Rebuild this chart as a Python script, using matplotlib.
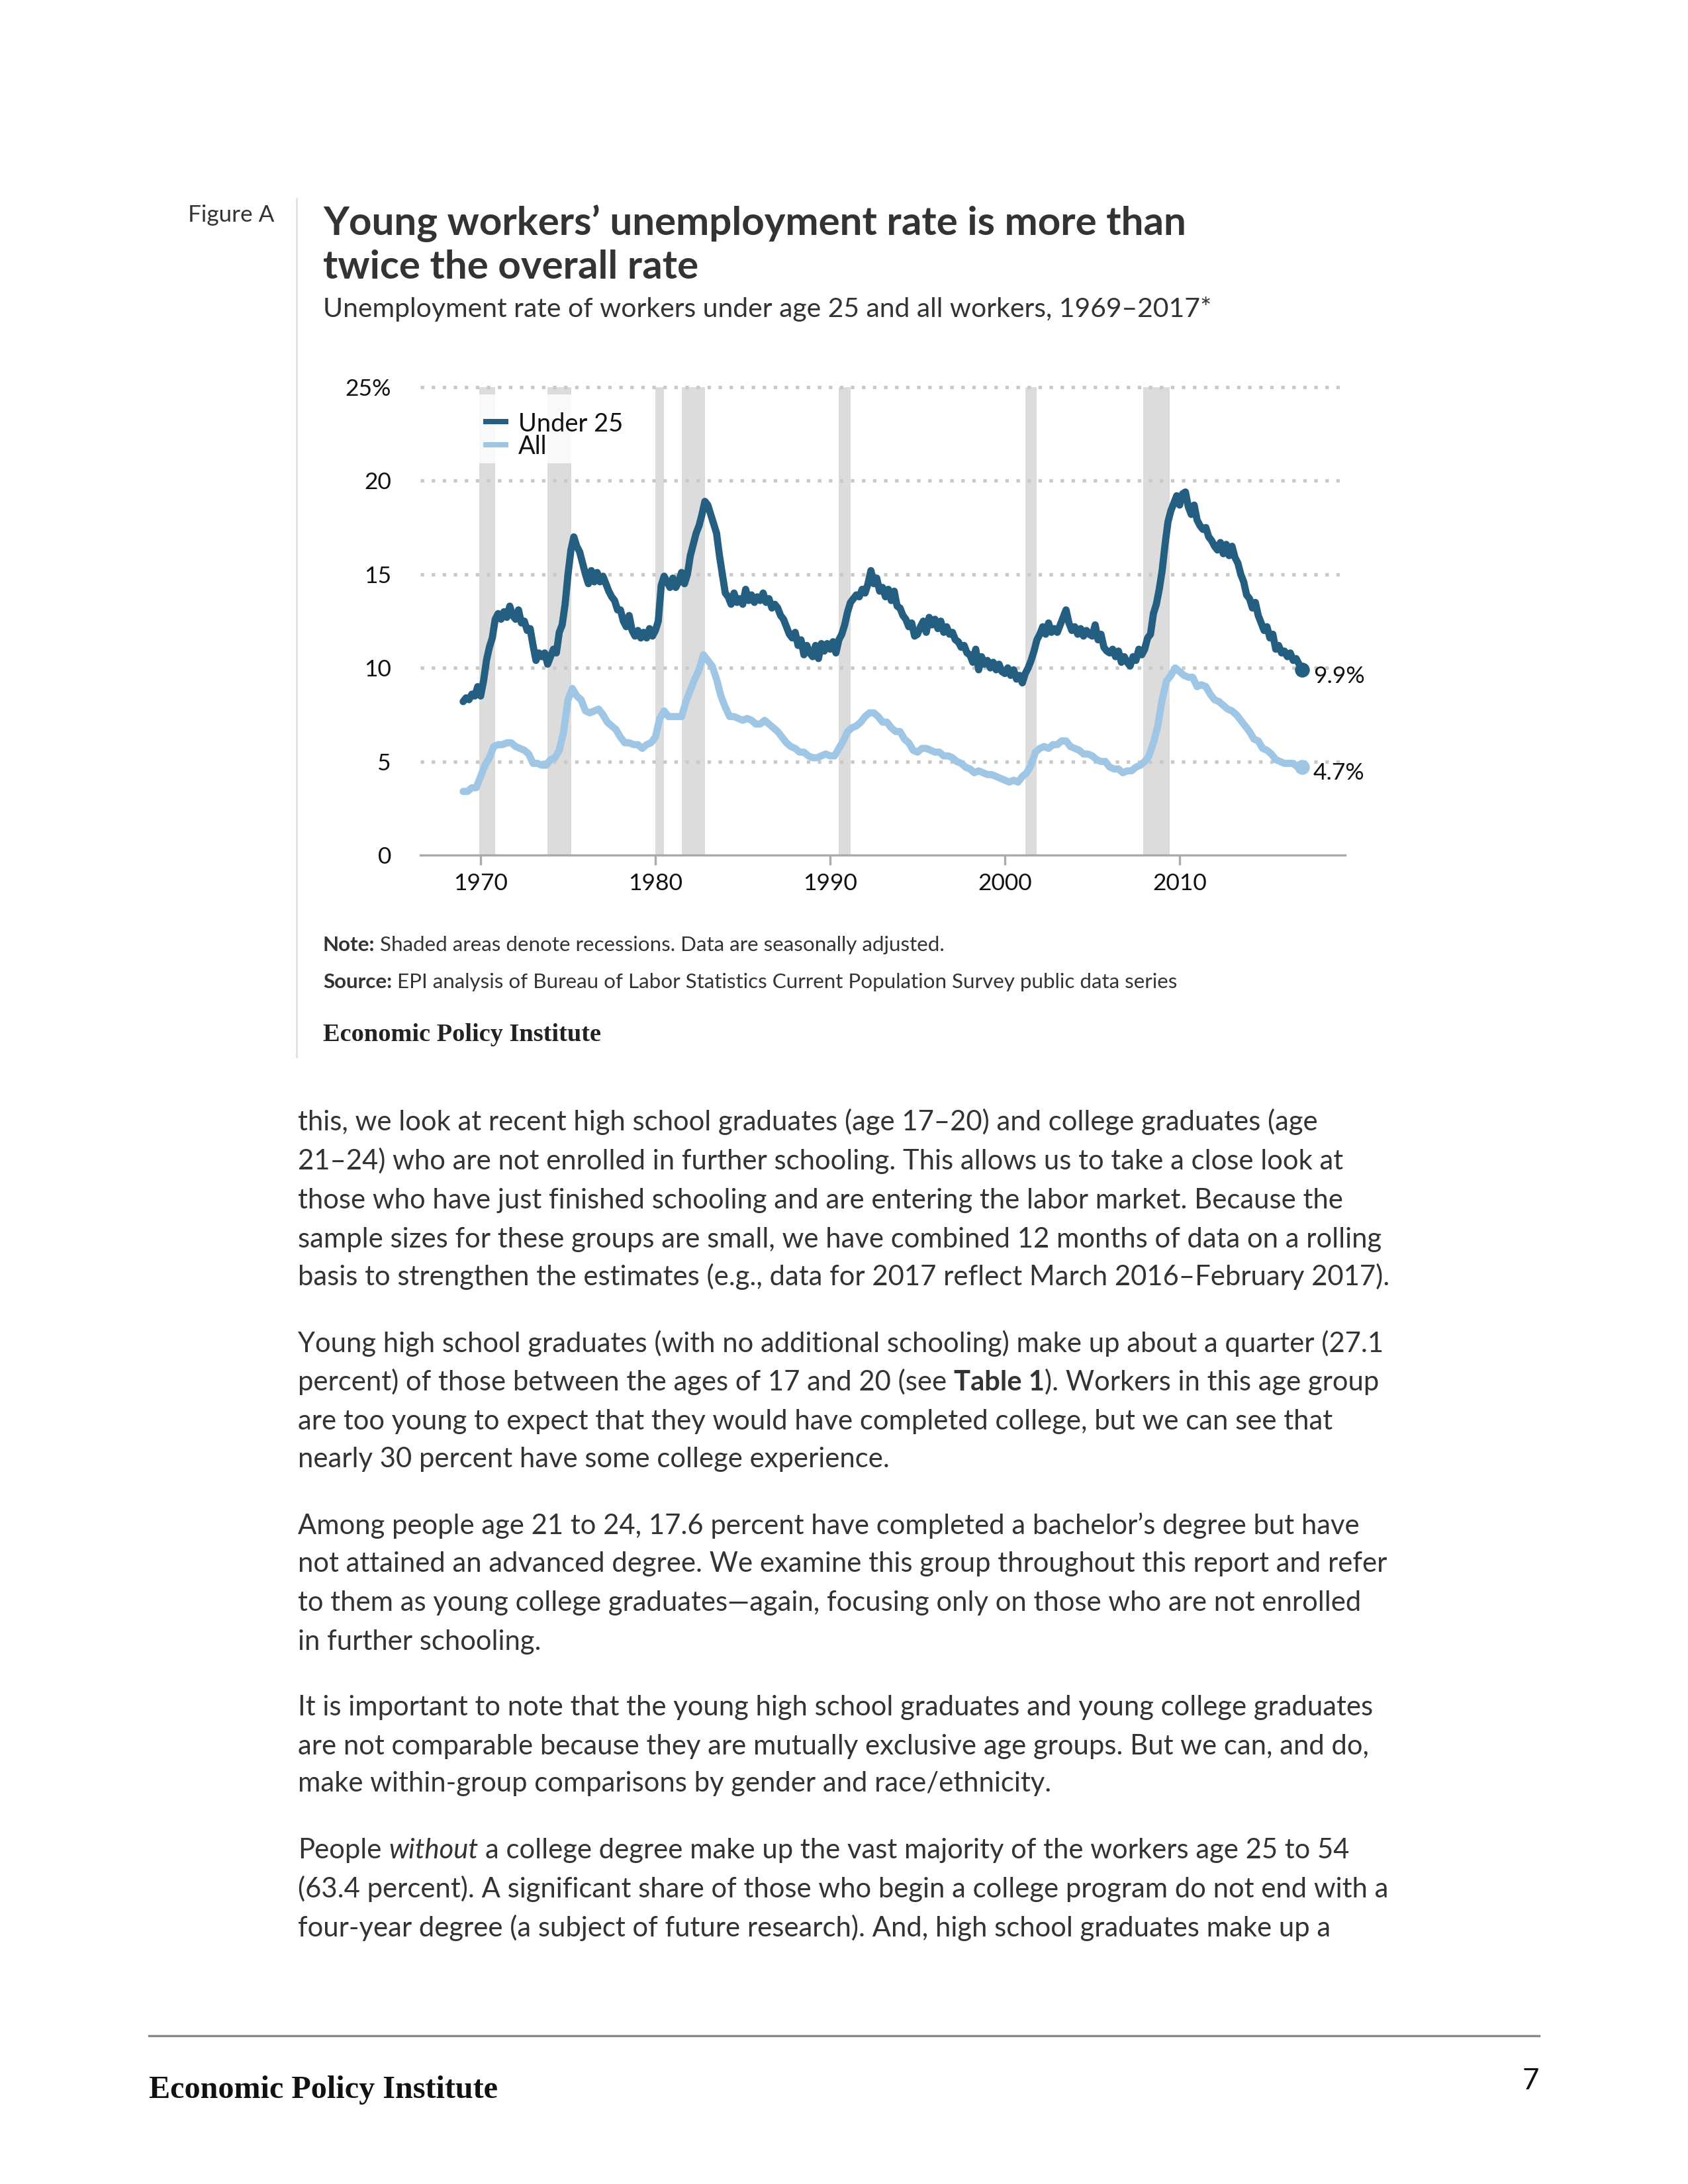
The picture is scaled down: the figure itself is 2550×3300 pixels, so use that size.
import matplotlib
matplotlib.use("Agg")
import matplotlib.pyplot as plt
from matplotlib.patches import Rectangle
from matplotlib.lines import Line2D
import numpy as np

# ---------------- data ----------------
start_year = 1969
# Under 25: bi-monthly readings (6 per year), 1969 - early 2017
under25 = [
    8.2, 8.4, 8.3, 8.6, 8.5, 9.0,        # 1969
    8.5, 9.3, 10.4, 11.1, 11.6, 12.6,    # 1970
    12.9, 12.6, 13.0, 12.7, 13.3, 12.8,  # 1971
    12.6, 13.1, 12.4, 12.5, 12.0, 12.1,  # 1972
    11.2, 10.4, 10.8, 10.6, 10.8, 10.2,  # 1973
    10.6, 11.0, 10.8, 11.9, 12.3, 13.4,  # 1974
    15.0, 16.3, 17.0, 16.5, 16.2, 15.6,  # 1975
    15.0, 14.5, 15.2, 14.6, 15.1, 14.6,  # 1976
    14.9, 14.5, 14.1, 13.8, 13.6, 13.1,  # 1977
    13.1, 12.5, 12.2, 12.8, 12.0, 11.7,  # 1978
    12.0, 11.6, 11.9, 11.6, 12.1, 11.7,  # 1979
    12.0, 12.5, 14.4, 14.9, 14.6, 14.3,  # 1980
    14.8, 14.3, 14.6, 15.1, 14.5, 15.0,  # 1981
    16.0, 16.6, 17.2, 17.6, 18.2, 18.9,  # 1982
    18.7, 18.2, 17.7, 17.2, 16.0, 15.0,  # 1983
    14.0, 13.8, 13.4, 14.0, 13.5, 13.7,  # 1984
    13.4, 14.2, 13.6, 13.9, 13.5, 13.8,  # 1985
    13.6, 14.0, 13.5, 13.7, 13.2, 13.4,  # 1986
    13.2, 12.8, 12.6, 12.2, 11.8, 11.6,  # 1987
    11.9, 11.2, 11.5, 10.7, 11.2, 10.8,  # 1988
    10.6, 11.2, 10.5, 11.3, 10.9, 11.3,  # 1989
    11.0, 11.4, 10.8, 11.5, 11.8, 12.3,  # 1990
    13.0, 13.5, 13.7, 13.9, 13.8, 14.2,  # 1991
    14.0, 14.5, 15.2, 14.5, 14.8, 14.1,  # 1992
    14.3, 13.8, 14.2, 13.6, 14.1, 13.3,  # 1993
    13.2, 12.8, 12.6, 12.2, 12.4, 11.7,  # 1994
    11.8, 12.2, 12.5, 11.9, 12.7, 12.3,  # 1995
    12.6, 12.1, 12.5, 11.9, 12.2, 11.8,  # 1996
    11.9, 11.5, 11.4, 11.1, 11.2, 10.8,  # 1997
    10.7, 10.3, 11.0, 9.9, 10.6, 10.2,   # 1998
    10.4, 10.0, 10.3, 9.9, 10.2, 9.8,    # 1999
    9.7, 10.0, 9.6, 9.9, 9.4, 9.6,       # 2000
    9.2, 9.7, 10.0, 10.4, 10.9, 11.5,    # 2001
    11.8, 12.2, 11.8, 12.4, 11.9, 12.1,  # 2002
    11.9, 12.3, 12.7, 13.1, 12.4, 12.0,  # 2003
    12.2, 11.8, 12.1, 11.7, 12.0, 11.8,  # 2004
    11.7, 12.3, 11.5, 11.8, 11.1, 10.9,  # 2005
    10.8, 11.0, 10.6, 10.9, 10.3, 10.6,  # 2006
    10.3, 10.1, 10.6, 10.4, 11.0, 10.7,  # 2007
    11.0, 11.6, 11.8, 12.9, 13.4, 14.2,  # 2008
    15.2, 16.6, 17.8, 18.4, 18.8, 19.2,  # 2009
    18.7, 19.3, 19.4, 18.6, 18.2, 18.7,  # 2010
    17.9, 17.6, 17.4, 17.5, 17.0, 16.8,  # 2011
    16.5, 16.3, 16.7, 16.1, 16.6, 16.0,  # 2012
    16.5, 15.9, 15.6, 15.0, 14.6, 13.9,  # 2013
    13.7, 13.2, 13.5, 12.8, 12.4, 12.0,  # 2014
    12.2, 11.6, 11.8, 11.0, 11.2, 10.8,  # 2015
    10.9, 10.6, 10.8, 10.4, 10.5, 10.2,  # 2016
    9.9,                                 # 2017
]
# All workers: quarterly readings, 1969 - early 2017
all_workers = [
    3.4, 3.4, 3.6, 3.6,
    4.2, 4.8, 5.2, 5.8,
    5.9, 5.9, 6.0, 6.0,
    5.8, 5.7, 5.6, 5.4,
    4.9, 4.9, 4.8, 4.8,
    5.1, 5.2, 5.6, 6.6,
    8.3, 8.9, 8.5, 8.3,
    7.7, 7.6, 7.7, 7.8,
    7.5, 7.1, 6.9, 6.7,
    6.3, 6.0, 6.0, 5.9,
    5.9, 5.7, 5.9, 6.0,
    6.3, 7.3, 7.7, 7.4,
    7.4, 7.4, 7.4, 8.2,
    8.8, 9.4, 9.9, 10.7,
    10.4, 10.1, 9.4, 8.5,
    7.9, 7.4, 7.4, 7.3,
    7.2, 7.3, 7.2, 7.0,
    7.0, 7.2, 7.0, 6.8,
    6.6, 6.3, 6.0, 5.8,
    5.7, 5.5, 5.5, 5.3,
    5.2, 5.2, 5.3, 5.4,
    5.3, 5.3, 5.7, 6.1,
    6.6, 6.8, 6.9, 7.1,
    7.4, 7.6, 7.6, 7.4,
    7.1, 7.1, 6.8, 6.6,
    6.6, 6.2, 6.0, 5.6,
    5.5, 5.7, 5.7, 5.6,
    5.5, 5.5, 5.3, 5.3,
    5.2, 5.0, 4.9, 4.7,
    4.6, 4.4, 4.5, 4.4,
    4.3, 4.3, 4.2, 4.1,
    4.0, 3.9, 4.0, 3.9,
    4.2, 4.4, 4.8, 5.5,
    5.7, 5.8, 5.7, 5.9,
    5.9, 6.1, 6.1, 5.8,
    5.7, 5.6, 5.4, 5.4,
    5.3, 5.1, 5.0, 5.0,
    4.7, 4.6, 4.6, 4.4,
    4.5, 4.5, 4.7, 4.8,
    5.0, 5.3, 6.0, 6.9,
    8.3, 9.3, 9.6, 10.0,
    9.8, 9.6, 9.5, 9.5,
    9.0, 9.1, 9.0, 8.6,
    8.3, 8.2, 8.0, 7.8,
    7.7, 7.5, 7.2, 6.9,
    6.6, 6.2, 6.1, 5.7,
    5.6, 5.4, 5.1, 5.0,
    4.9, 4.9, 4.9, 4.7,
    4.7,
]
recession_starts = [1969.92, 1973.83, 1980.0, 1981.5, 1990.5, 2001.17, 2007.92]
recession_ends = [1970.83, 1975.17, 1980.5, 1982.83, 1991.17, 2001.83, 2009.42]
x_ticks = [1970, 1980, 1990, 2000, 2010]
y_ticks = [0, 5, 10, 15, 20, 25]
y_tick_labels = ["0", "5", "10", "15", "20", "25%"]
series_names = ["Under 25", "All"]
end_labels = ["9.9%", "4.7%"]

title_lines = ["Young workers’ unemployment rate is more than", "twice the overall rate"]
subtitle = "Unemployment rate of workers under age 25 and all workers, 1969–2017*"

paragraphs = [
    [[("this, we look at recent high school graduates (age 17–20) and college graduates (age", "n")],
     [("21–24) who are not enrolled in further schooling. This allows us to take a close look at", "n")],
     [("those who have just finished schooling and are entering the labor market. Because the", "n")],
     [("sample sizes for these groups are small, we have combined 12 months of data on a rolling", "n")],
     [("basis to strengthen the estimates (e.g., data for 2017 reflect March 2016–February 2017).", "n")]],
    [[("Young high school graduates (with no additional schooling) make up about a quarter (27.1", "n")],
     [("percent) of those between the ages of 17 and 20 (see", "n"), ("Table 1", "b"), ("). Workers in this age group", "n")],
     [("are too young to expect that they would have completed college, but we can see that", "n")],
     [("nearly 30 percent have some college experience.", "n")]],
    [[("Among people age 21 to 24, 17.6 percent have completed a bachelor’s degree but have", "n")],
     [("not attained an advanced degree. We examine this group throughout this report and refer", "n")],
     [("to them as young college graduates—again, focusing only on those who are not enrolled", "n")],
     [("in further schooling.", "n")]],
    [[("It is important to note that the young high school graduates and young college graduates", "n")],
     [("are not comparable because they are mutually exclusive age groups. But we can, and do,", "n")],
     [("make within-group comparisons by gender and race/ethnicity.", "n")]],
    [[("People", "n"), ("without", "i"), ("a college degree make up the vast majority of the workers age 25 to 54", "n")],
     [("(63.4 percent). A significant share of those who begin a college program do not end with a", "n")],
     [("four-year degree (a subject of future research). And, high school graduates make up a", "n")]],
]

# ---------------- figure ----------------
W, H, DPI = 2550, 3300, 300
fig = plt.figure(figsize=(W / DPI, H / DPI), dpi=DPI)
fig.patch.set_facecolor("white")
renderer = fig.canvas.get_renderer()
PT = DPI / 72.0

SANS = ["Lato", "DejaVu Sans"]
SERIF = ["Liberation Serif", "DejaVu Serif"]
TXT = "#333333"
DARK = "#245e80"
LIGHT = "#9fc7e5"


def fx(px):
    return px / W


def fy(py):
    return 1 - py / H


def width_of(s, size, **kw):
    t = fig.text(0, 0, s, fontsize=size, **kw)
    w = t.get_window_extent(renderer).width
    t.remove()
    return w


def fit_size(s, target, **kw):
    return 10 * target / width_of(s, 10, **kw)


def style_kw(st):
    if st == "b":
        return dict(fontweight="bold")
    if st == "i":
        return dict(fontstyle="italic")
    return {}


def draw_runs(x, y, parts, size, color=TXT, family=SANS):
    cur = x
    space = width_of("a a", size, family=family) - width_of("aa", size, family=family)
    for k, (s, st) in enumerate(parts):
        if k > 0 and not s[0] in ").,;:":
            cur += space
        t = fig.text(fx(cur), fy(y), s, fontsize=size, family=family, color=color,
                     ha="left", va="baseline", **style_kw(st))
        cur += t.get_window_extent(renderer).width


# ---------- header ----------
fig.text(fx(284), fy(335), "Figure A", fontsize=fit_size("Figure A", 130, family=SANS),
         family=SANS, color=TXT, ha="left", va="baseline")
fig.add_artist(Line2D([fx(448), fx(448)], [fy(300), fy(1597)], color="#dddddd", lw=0.6))

tsize = fit_size(title_lines[0], 1307, family=SANS, fontweight="bold")
fig.text(fx(488), fy(355), title_lines[0], fontsize=tsize, family=SANS, fontweight="bold",
         color=TXT, ha="left", va="baseline")
fig.text(fx(488), fy(421), title_lines[1], fontsize=tsize, family=SANS, fontweight="bold",
         color=TXT, ha="left", va="baseline")
fig.text(fx(488), fy(479), subtitle, fontsize=fit_size(subtitle, 1342, family=SANS),
         family=SANS, color=TXT, ha="left", va="baseline")

# ---------- chart ----------
ax_l, ax_r, ax_t, ax_b = 635, 2032, 585, 1292
ax = fig.add_axes([fx(ax_l), fy(ax_b), (ax_r - ax_l) / W, (ax_b - ax_t) / H])
ax.set_xlim(1966.55, 2019.47)
ax.set_ylim(0, 25)
for sp in ax.spines.values():
    sp.set_visible(False)
ax.patch.set_alpha(0)

for s0, s1 in zip(recession_starts, recession_ends):
    ax.axvspan(s0, s1, ymin=0, ymax=1, color="#dcdcdc", lw=0, zorder=1)

for v in y_ticks[1:]:
    ax.axhline(v, color="#c9c9c9", lw=1.25, ls=(0, (1, 2.2)), dash_capstyle="butt", zorder=1.5,
               clip_on=False)
ax.axhline(0, color="#aaaaaa", lw=0.8, zorder=1.6, clip_on=False)

# legend background box
ax.add_patch(Rectangle((fx(712), fy(700)), fx(955) - fx(712), (700 - 596) / H,
                       transform=fig.transFigure, facecolor="white", alpha=0.85,
                       edgecolor="none", zorder=2))

x_u = start_year + np.arange(len(under25)) / 6.0
x_a = start_year + np.arange(len(all_workers)) / 4.0
ax.plot(x_u, under25, color=DARK, lw=2.6, solid_joinstyle="round", solid_capstyle="round",
        zorder=4, clip_on=False)
ax.plot(x_a, all_workers, color=LIGHT, lw=2.6, solid_joinstyle="round", solid_capstyle="round",
        zorder=3, clip_on=False)
ax.plot([x_u[-1]], [under25[-1]], "o", color=DARK, ms=4.4, zorder=5, clip_on=False)
ax.plot([x_a[-1]], [all_workers[-1]], "o", color=LIGHT, ms=4.4, zorder=5, clip_on=False)

lab_size = fit_size("1970", 82, family=SANS)
ax.annotate(end_labels[0], (x_u[-1], under25[-1]), xytext=(17 / PT, -10 / PT),
            textcoords="offset points", fontsize=lab_size, family=SANS, color="#111111",
            ha="left", va="center")
ax.annotate(end_labels[1], (x_a[-1], all_workers[-1]), xytext=(17 / PT, -9 / PT),
            textcoords="offset points", fontsize=lab_size, family=SANS, color="#111111",
            ha="left", va="center")

ax.set_xticks(x_ticks)
ax.set_xticklabels([str(v) for v in x_ticks], fontsize=lab_size, family=SANS, color="#111111")
ax.tick_params(axis="x", length=15 / PT, width=0.8, color="#aaaaaa", pad=12 / PT)
ax.set_yticks(y_ticks)
ax.set_yticklabels(y_tick_labels, fontsize=lab_size, family=SANS, color="#111111")
ax.tick_params(axis="y", length=0, pad=(ax_l - 591) / PT)

# legend (manual)
leg_size = fit_size("Under 25", 158, family=SANS)
for i, (nm, col, yy) in enumerate(zip(series_names, [DARK, LIGHT], [637, 672])):
    fig.add_artist(Line2D([fx(730), fx(768)], [fy(yy), fy(yy)], color=col, lw=8 / PT,
                          solid_capstyle="butt", zorder=6))
    fig.text(fx(783), fy(yy), nm, fontsize=leg_size, family=SANS, color="#111111",
             ha="left", va="center_baseline", zorder=6)

# ---------- notes ----------
note_parts = [("Note:", "b"), ("Shaded areas denote recessions. Data are seasonally adjusted.", "n")]
src_parts = [("Source:", "b"), ("EPI analysis of Bureau of Labor Statistics Current Population Survey public data series", "n")]
src_plain = "Source: EPI analysis of Bureau of Labor Statistics Current Population Survey public data series"
nsize = fit_size(src_plain, 1290, family=SANS)
draw_runs(488, 1437, note_parts, nsize)
draw_runs(488, 1493, src_parts, nsize)
fig.text(fx(488), fy(1573), "Economic Policy Institute",
         fontsize=fit_size("Economic Policy Institute", 419, family=SERIF, fontweight="bold"),
         family=SERIF, fontweight="bold", color="#222222", ha="left", va="baseline")

# ---------- body text ----------
bsize = fit_size("sample sizes for these groups are small, we have combined 12 months of data on a rolling",
                 1633, family=SANS)
offsets = [[0, 28, 56, 84, 111], [159, 187, 215, 242], [290, 317, 345, 373], [420, 448, 475],
           [523, 551, 579]]
for para, offs in zip(paragraphs, offsets):
    for line, off in zip(para, offs):
        draw_runs(450, 1708 + off * 2.104, line, bsize)

# ---------- footer ----------
fig.add_artist(Line2D([fx(225), fx(2325)], [fy(3076), fy(3076)], color="#888888", lw=0.8))
fig.text(fx(225), fy(3170), "Economic Policy Institute",
         fontsize=fit_size("Economic Policy Institute", 526, family=SERIF, fontweight="bold"),
         family=SERIF, fontweight="bold", color="#111111", ha="left", va="baseline")
fig.text(fx(2325), fy(3157), "7", fontsize=bsize * 1.05, family=SANS, color="#111111",
         ha="right", va="baseline")

fig.savefig("out.png", dpi=DPI, facecolor="white")
